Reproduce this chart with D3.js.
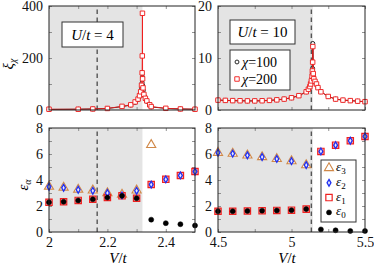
<!DOCTYPE html>
<html><head><meta charset="utf-8">
<script src="https://cdn.jsdelivr.net/npm/d3@7"></script>
<style>body{margin:0;background:#fff}svg{display:block}</style>
</head><body><svg id="c" width="374" height="265"></svg>
<script>
// ---------- data ----------
const V_U4_chi100  = [2.0,2.1,2.15,2.2,2.25,2.28,2.295,2.305,2.31,2.314,2.317,2.319,2.32,2.321,2.323,2.326,2.33,2.335,2.345,2.35,2.4,2.45,2.5];
const xi_U4_chi100 = [2,3,4,6,13,19,29,40,52,65,85,105,128,95,75,55,42,33,19,12,6,4,3];
const V_U4_chi200  = [2.0,2.1,2.15,2.2,2.25,2.28,2.295,2.305,2.31,2.314,2.317,2.319,2.3195,2.32,2.3205,2.322,2.325,2.33,2.335,2.345,2.35,2.4,2.45,2.5];
const xi_U4_chi200 = [3,3,4,6,14,20,31,42,55,70,95,143,208,372,120,85,60,45,35,20,13,6.5,4,3];
const V_U10        = [4.5,4.55,4.6,4.65,4.7,4.75,4.8,4.85,4.9,4.95,5.0,5.05,5.1,5.115,5.125,5.13,5.135,5.14,5.142,5.144,5.145,5.148,5.152,5.16,5.17,5.18,5.2,5.25,5.3,5.35,5.4,5.45,5.5];
const xi_U10_chi100= [1.9,1.85,1.8,1.78,1.75,1.75,1.78,1.85,1.95,2.1,2.35,2.75,3.5,4.0,4.5,5.0,5.6,6.2,7.0,8.0,12.8,6.5,5.8,5.3,4.9,4.3,3.5,2.6,2.1,1.9,1.8,1.7,1.6];
const xi_U10_chi200= [1.9,1.85,1.8,1.78,1.75,1.75,1.78,1.85,1.95,2.1,2.35,2.75,3.5,4.0,4.5,5.0,5.6,6.5,7.5,9.2,12.2,7.0,6.0,5.5,5.0,4.3,3.5,2.6,2.1,1.9,1.8,1.7,1.6];

const V_eps_U4 = [2.0,2.05,2.1,2.15,2.2,2.25,2.3,2.35,2.4,2.45,2.5];
const eps0_U4  = [2.28,2.33,2.43,2.52,2.65,2.78,2.6,0.95,0.68,0.6,0.5];
const eps1_U4  = [2.28,2.33,2.43,2.52,2.65,2.78,2.6,3.65,4.05,4.35,4.65];
const eps2_U4  = [3.48,3.4,3.25,3.17,3.0,2.82,3.17,3.65,4.05,4.35,4.65];
const eps3_U4  = [3.5,3.42,3.27,3.2,3.0,2.88,3.2,6.7,null,null,null];

const V_eps_U10 = [4.5,4.6,4.7,4.8,4.9,5.0,5.1,5.2,5.3,5.4,5.5];
const eps0_U10  = [1.6,1.6,1.62,1.64,1.66,1.68,1.76,0.2,0.13,0.08,0.08];
const eps1_U10  = [1.6,1.6,1.62,1.64,1.66,1.68,1.76,6.2,6.68,7.02,7.35];
const eps2_U10  = [6.1,6.03,5.9,5.77,5.62,5.45,5.15,6.2,6.68,7.02,7.35];
const eps3_U10  = [6.1,6.03,5.9,5.77,5.62,5.45,5.15,null,null,null,null];

// ticks / labels
const xTicksL = [2.0,2.1,2.2,2.3,2.4], xLabelsL = ["2","2.2","2.4"];
const xTicksR = [4.5,4.75,5.0,5.25,5.5], xLabelsR = ["4.5","5","5.5"];
const yTicksTL = [0,100,200,300,400], yLabelsTL = ["0","200","400"];
const yTicksTR = [0,5,10,15,20], yLabelsTR = ["0","10","20"];
const yTicksB = [0,1,2,3,4,5,6,7,8], yLabelsB = ["0","2","4","6","8"];
const shadeU4 = [2.0,2.32], dashU4 = 2.165;
const shadeU10 = [4.5,5.145], dashU10 = 5.135;

const FONT = "'Liberation Serif', 'DejaVu Serif', serif";

// ---------- scales ----------
const xL = d3.scaleLinear([2,2.5],[49,195]);
const xR = d3.scaleLinear([4.5,5.5],[218,365]);
const yTL = d3.scaleLinear([0,400],[110,6]);
const yTR = d3.scaleLinear([0,20],[110,6]);
const yBL = d3.scaleLinear([0,8],[232,128]);
const yBR = d3.scaleLinear([0,8],[232,128]);

const svg = d3.select("#c");
const fmtSet = (labels) => (d => labels.find(l => Math.abs(+l - d) < 1e-9) || "");

function panel(x, y, xt, xl, yt, yl, showX, shade, dash) {
  const g = svg.append("g");
  const [x0,x1] = x.range(), [y0,y1] = y.range();
  g.append("rect").attr("x",x(shade[0])).attr("y",y1).attr("width",x(shade[1])-x(shade[0])).attr("height",y0-y1).attr("fill","#e4e4e4");
  g.append("line").attr("x1",x(dash)).attr("x2",x(dash)).attr("y1",y0).attr("y2",y1)
    .attr("stroke","#555").attr("stroke-width",1.4).attr("stroke-dasharray","4.5,3.5");
  const ax = [
    [d3.axisBottom(x).tickValues(xt).tickFormat(showX ? fmtSet(xl) : () => ""), `translate(0,${y0})`, 5],
    [d3.axisTop(x).tickValues(xt).tickFormat(() => ""), `translate(0,${y1})`, 4],
    [d3.axisLeft(y).tickValues(yt).tickFormat(fmtSet(yl)), `translate(${x0},0)`, 6],
    [d3.axisRight(y).tickValues(yt).tickFormat(() => ""), `translate(${x1},0)`, 4]
  ];
  ax.forEach(([a,t,p]) => {
    const s = g.append("g").attr("transform",t).call(a.tickSize(-3).tickSizeOuter(0).tickPadding(p));
    s.select(".domain").remove();
    s.selectAll("line").attr("stroke","#777").attr("stroke-width",0.8);
    s.selectAll("text").attr("font-size",14).attr("fill","#111");
  });
  return g;
}
function frame(x, y) {
  const [x0,x1] = x.range(), [y0,y1] = y.range();
  svg.append("rect").attr("x",x0).attr("y",y1).attr("width",x1-x0).attr("height",y0-y1)
    .attr("fill","none").attr("stroke","#222").attr("stroke-width",1);
}

const gTL = panel(xL,yTL,xTicksL,xLabelsL,yTicksTL,yLabelsTL,false,shadeU4,dashU4);
const gTR = panel(xR,yTR,xTicksR,xLabelsR,yTicksTR,yLabelsTR,false,shadeU10,dashU10);
const gBL = panel(xL,yBL,xTicksL,xLabelsL,yTicksB,yLabelsB,true,shadeU4,dashU4);
const gBR = panel(xR,yBR,xTicksR,xLabelsR,yTicksB,yLabelsB,true,shadeU10,dashU10);

// ---------- top panels: lines + markers ----------
function series(g, x, y, V, vals, color, shape) {
  const pts = V.map((v,i) => [v, vals[i]]);
  g.append("path").attr("d", d3.line().x(d => x(d[0])).y(d => y(d[1]))(pts))
    .attr("fill","none").attr("stroke",color).attr("stroke-width",0.9);
  const sym = d3.symbol().type(shape).size(shape === d3.symbolSquare ? 20 : 12);
  g.selectAll(null).data(pts).join("path")
    .attr("transform", d => `translate(${x(d[0])},${y(d[1])})`)
    .attr("d", sym).attr("fill","#fff").attr("stroke",color).attr("stroke-width",0.9);
}
series(gTL, xL, yTL, V_U4_chi100, xi_U4_chi100, "#111", d3.symbolCircle);
series(gTL, xL, yTL, V_U4_chi200, xi_U4_chi200, "#f01818", d3.symbolSquare);
series(gTR, xR, yTR, V_U10, xi_U10_chi100, "#111", d3.symbolCircle);
series(gTR, xR, yTR, V_U10, xi_U10_chi200, "#f01818", d3.symbolSquare);

// ---------- bottom panels: markers ----------
const mk = {
  e3: {sym: d3.symbol().type(d3.symbolTriangle).size(36), fill:"#fff", stroke:"#d08848", sw:1.1},
  e1: {sym: d3.symbol().type(d3.symbolSquare).size(40), fill:"#f8b4b4", stroke:"#f02020", sw:1.2},
  e2: {sym: d3.symbol().type(d3.symbolDiamond).size(13), fill:"#e8e8ff", stroke:"#2030f0", sw:1.3},
  e0: {sym: d3.symbol().type(d3.symbolCircle).size(20), fill:"#000", stroke:"#000", sw:0.5}
};
function scatter(g, x, y, V, vals, m) {
  const pts = V.map((v,i) => [v, vals[i]]).filter(d => d[1] != null);
  g.selectAll(null).data(pts).join("path")
    .attr("transform", d => `translate(${x(d[0])},${y(d[1])})`)
    .attr("d", m.sym).attr("fill", m.fill).attr("stroke", m.stroke).attr("stroke-width", m.sw);
}
[[gBL,xL,yBL,V_eps_U4,[eps3_U4,eps1_U4,eps2_U4,eps0_U4]],[gBR,xR,yBR,V_eps_U10,[eps3_U10,eps1_U10,eps2_U10,eps0_U10]]]
  .forEach(([g,x,y,V,s]) => {
    scatter(g,x,y,V,s[0],mk.e3); scatter(g,x,y,V,s[1],mk.e1);
    scatter(g,x,y,V,s[2],mk.e2); scatter(g,x,y,V,s[3],mk.e0);
  });

frame(xL,yTL); frame(xR,yTR); frame(xL,yBL); frame(xR,yBR);

// ---------- annotations ----------
function ut(xc, yc, w, h, num) {
  svg.append("rect").attr("x",xc).attr("y",yc).attr("width",w).attr("height",h)
    .attr("fill","#fff").attr("stroke","#333").attr("stroke-width",1);
  const t = svg.append("text").attr("x",xc+w/2).attr("y",yc+h/2+5).attr("text-anchor","middle").attr("font-size",15);
  t.append("tspan").attr("font-style","italic").text("U");
  t.append("tspan").text("/");
  t.append("tspan").attr("font-style","italic").text("t");
  t.append("tspan").text(" = " + num);
}
ut(62,22,61,25,"4");
ut(230,20,65,24,"10");

// chi legend
svg.append("rect").attr("x",230).attr("y",50).attr("width",60).attr("height",40)
  .attr("fill","#fff").attr("stroke","#333").attr("stroke-width",1);
const chiLeg = [["χ=100","#111",d3.symbolCircle,12],["χ=200","#f01818",d3.symbolSquare,20]];
chiLeg.forEach((d,i) => {
  const yy = 62 + i*17;
  svg.append("path").attr("transform",`translate(237,${yy})`).attr("d",d3.symbol().type(d[2]).size(d[3]))
    .attr("fill","#fff").attr("stroke",d[1]).attr("stroke-width",0.9);
  const t = svg.append("text").attr("x",242).attr("y",yy+5).attr("font-size",14);
  t.append("tspan").attr("font-style","italic").text("χ");
  t.append("tspan").text(d[0].slice(1));
});

// eps legend
svg.append("rect").attr("x",321).attr("y",160).attr("width",35).attr("height",62)
  .attr("fill","#fff").attr("stroke","#333").attr("stroke-width",1);
const epsLeg = [["3",mk.e3],["2",mk.e2],["1",{...mk.e1, fill:"#fff"}],["0",mk.e0]];
epsLeg.forEach((d,i) => {
  const yy = 168 + i*14.8;
  svg.append("path").attr("transform",`translate(329,${yy})`).attr("d",d[1].sym)
    .attr("fill",d[1].fill).attr("stroke",d[1].stroke).attr("stroke-width",d[1].sw);
  const t = svg.append("text").attr("x",336).attr("y",yy+3).attr("font-size",13);
  t.append("tspan").attr("font-style","italic").text("ε");
  t.append("tspan").attr("font-size",9).attr("dy",3).text(d[0]);
});

// axis titles
function vt(xc) {
  const t = svg.append("text").attr("x",xc).attr("y",263).attr("text-anchor","middle").attr("font-size",15);
  t.append("tspan").attr("font-style","italic").text("V");
  t.append("tspan").text("/");
  t.append("tspan").attr("font-style","italic").text("t");
}
vt(118); vt(287);
const ylab1 = svg.append("text").attr("transform","translate(13,64) rotate(-90)").attr("text-anchor","middle").attr("font-size",15);
ylab1.append("tspan").attr("font-style","italic").text("ξ");
ylab1.append("tspan").attr("font-style","italic").attr("font-size",10).attr("dy",3).text("χ");
const ylab2 = svg.append("text").attr("transform","translate(28,185) rotate(-90)").attr("text-anchor","middle").attr("font-size",15);
ylab2.append("tspan").attr("font-style","italic").text("ε");
ylab2.append("tspan").attr("font-style","italic").attr("font-size",10).attr("dy",3).text("α");

svg.selectAll("text").style("font-family", FONT);
</script></body></html>
